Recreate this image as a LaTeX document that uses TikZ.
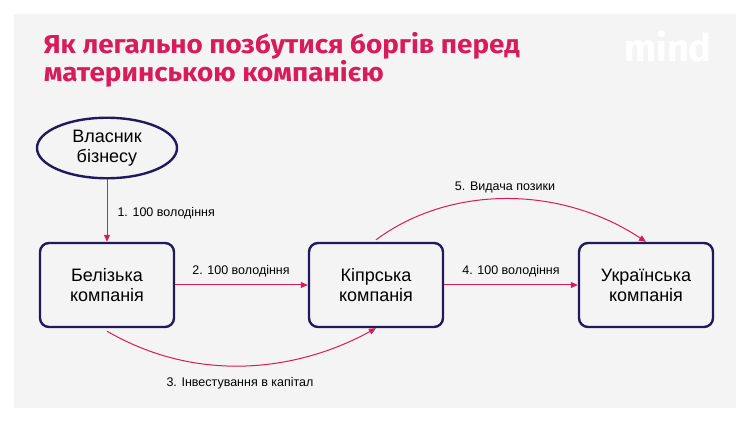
\documentclass[tikz,border=0pt]{standalone}
\usepackage{fontspec}
\setmainfont{Liberation Sans}
\newfontfamily\titlefont{Fira Sans}
\usetikzlibrary{shapes.geometric,arrows.meta}
\definecolor{bgc}{HTML}{F4F4F4}
\definecolor{navy}{HTML}{201A5C}
\definecolor{pinkc}{HTML}{D81B5A}
\begin{document}
\begin{tikzpicture}[x=1pt,y=-1pt,
  box/.style={draw=navy,line width=2.4pt,rounded corners=9pt,minimum width=134pt,minimum height=84pt,align=center,font=\fontsize{18}{20}\selectfont,fill=bgc},
  arr/.style={draw=pinkc,line width=1pt,-{Triangle[length=7pt,width=6pt]}},
  lab/.style={font=\fontsize{12.5}{14}\selectfont}]
\useasboundingbox (0,0) rectangle (750,422);
\fill[white] (0,0) rectangle (750,422);
\fill[bgc] (14,14) rectangle (736,408);
\node[anchor=west,text=pinkc,font=\titlefont\bfseries\fontsize{26}{25}\selectfont,align=left,xscale=1.07,transform shape] (title) at (40,60) {Як легально позбутися боргів перед\\материнською компанією};
\node[text=white,font=\titlefont\bfseries\fontsize{38}{38}\selectfont] (logo) at (668,46) {mind};
\node[ellipse,draw=navy,line width=2.4pt,minimum width=140pt,minimum height=60pt,align=center,font=\fontsize{18}{20}\selectfont] (own) at (107,148) {Власник\\бізнесу};
\node[box] (bz) at (107,285) {Белізька\\компанія};
\node[box] (cy) at (376,285) {Кіпрська\\компанія};
\node[box] (ua) at (646,285) {Українська\\компанія};
\draw[arr] (own) -- (bz);
\node[lab,anchor=west] (l1) at (114,213) {1. 100 володіння};
\draw[arr] (bz) -- (cy);
\node[lab] (l2) at (241,271) {2. 100 володіння};
\draw[arr] (bz.south) ++(0,3) coordinate (s3) (s3) .. controls (200,385) and (300,370) .. (cy.south);
\node[lab] (l3) at (240,383) {3. Інвестування в капітал};
\draw[arr] (cy) -- (ua);
\node[lab] (l4) at (511,271) {4. 100 володіння};
\draw[arr] (cy.north) ++(0,-2) coordinate (s5) (s5) .. controls (450,185) and (560,185) .. (ua.north);
\node[lab] (l5) at (505,187) {5. Видача позики};
\end{tikzpicture}
\end{document}
